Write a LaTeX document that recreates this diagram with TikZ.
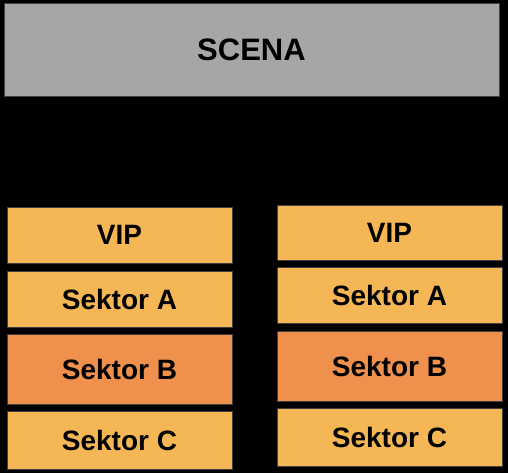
\documentclass[tikz,border=0pt]{standalone}
\usepackage{fontspec}
\setmainfont{Liberation Sans}
\usepackage{tikz}

\definecolor{stagegray}{HTML}{A6A6A6}
\definecolor{seatlight}{HTML}{F5B755}
\definecolor{seatdark}{HTML}{EF914C}

\begin{document}
\begin{tikzpicture}[
      x=1pt, y=-1pt,
      box/.style={draw=black!75,line width=0.8pt,inner sep=0pt,font=\bfseries\fontsize{28}{33}\selectfont,minimum width=225pt},
      stage/.style={box,fill=stagegray,minimum width=495pt,minimum height=93pt,font=\bfseries\fontsize{31}{37}\selectfont},
      light/.style={box,fill=seatlight},
      dark/.style={box,fill=seatdark,minimum height=70pt}
    ]
    % Background.
    \fill[black] (0,0) rectangle (508,473);
    % Draw the stage.
    \node[stage] (scena) at (251.5,49.5) {SCENA};
    % Draw the left block.
    \node[light,minimum height=56pt] (vipL) at (119.5,235) {VIP};
    \node[light,minimum height=56pt] (aL)   at (119.5,299) {Sektor A};
    \node[dark]                      (bL)   at (119.5,369) {Sektor B};
    \node[light,minimum height=58pt] (cL)   at (119.5,440) {Sektor C};
    % Draw the right block.
    \node[light,minimum height=55pt] (vipR) at (389.5,232.5) {VIP};
    \node[light,minimum height=56pt] (aR)   at (389.5,295) {Sektor A};
    \node[dark]                      (bR)   at (389.5,366) {Sektor B};
    \node[light,minimum height=58pt] (cR)   at (389.5,437) {Sektor C};
    \end{tikzpicture}
\end{document}
